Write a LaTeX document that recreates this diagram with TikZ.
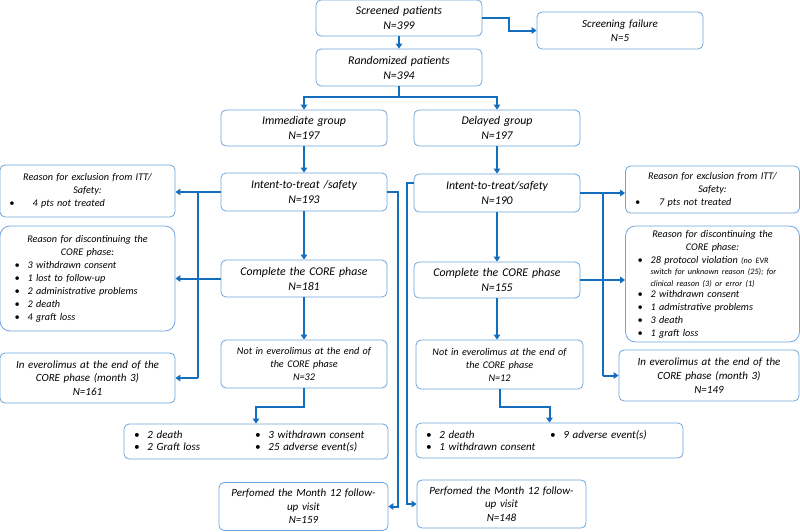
\documentclass[tikz,border=0pt]{standalone}
\usepackage{fontspec}
\setmainfont{Carlito}
\usetikzlibrary{arrows.meta,calc}
\definecolor{boxblue}{RGB}{110,165,220}
\definecolor{arrblue}{RGB}{20,110,190}
\begin{document}
\begin{tikzpicture}[x=1pt,y=-1pt,
    box/.style={draw=boxblue,line width=0.8pt,rounded corners=5pt,fill=white,align=center,inner sep=3pt,font=\fontsize{11.8}{15}\selectfont\itshape},
    mid/.style={font=\fontsize{11}{13.7}\selectfont\itshape},
    small/.style={font=\fontsize{10.2}{13}\selectfont\itshape},
    rbox/.style={box,small,rounded corners=10pt},
    link/.style={draw=arrblue,line width=2pt},
    arr/.style={link,-{Triangle[length=5pt,width=6.5pt]}}]
    \useasboundingbox (0,0) rectangle (800,531);
    \node[box,minimum width=166,text width=160,minimum height=36] (scr) at (399,18) {Screened patients\\N=399};
    \node[box,mid,minimum width=166,text width=160,minimum height=37] (fail) at (620,30.5) {Screening failure\\N=5};
    \node[box,minimum width=166,text width=160,minimum height=37] (rand) at (399,67.5) {Randomized patients\\N=394};
    \node[box,minimum width=166,text width=160,minimum height=36] (imm) at (304,128) {Immediate group\\N=197};
    \node[box,minimum width=166,text width=160,minimum height=36] (del) at (497,128) {Delayed group\\N=197};
    \node[box,minimum width=166,text width=160,minimum height=38] (ittL) at (304,192) {Intent-to-treat /safety\\N=193};
    \node[box,minimum width=166,text width=160,minimum height=38] (ittR) at (497,193) {Intent-to-treat/safety\\N=190};
    \node[box,small,minimum width=175,text width=166,minimum height=52] (exL) at (87.5,191) {Reason for exclusion from ITT/\\Safety:\\
        \makebox[\linewidth][l]{\hspace{5pt}\textbullet\hspace{18pt}4 pts not treated}};
    \node[box,small,minimum width=174,text width=165,minimum height=47] (exR) at (712.5,189.5) {Reason for exclusion from ITT/\\Safety:\\
        \makebox[\linewidth][l]{\hspace{5pt}\textbullet\hspace{19pt}7 pts not treated}};
    \node[rbox,minimum width=175,text width=166,minimum height=105] (disL) at (87.5,278.5) {Reason for discontinuing the\\CORE phase:\\
        \makebox[\linewidth][l]{\hspace{10pt}\textbullet\hspace{8pt}3 withdrawn consent}\\
        \makebox[\linewidth][l]{\hspace{10pt}\textbullet\hspace{8pt}1 lost to follow-up}\\
        \makebox[\linewidth][l]{\hspace{10pt}\textbullet\hspace{8pt}2 administrative problems}\\
        \makebox[\linewidth][l]{\hspace{10pt}\textbullet\hspace{8pt}2 death}\\
        \makebox[\linewidth][l]{\hspace{10pt}\textbullet\hspace{8pt}4 graft loss}};
    \node[box,minimum width=166,text width=160,minimum height=37] (corL) at (304,278.5) {Complete the CORE phase\\N=181};
    \node[box,minimum width=166,text width=160,minimum height=36] (corR) at (497,280) {Complete the CORE phase\\N=155};
    \node[rbox,minimum width=174,text width=166,minimum height=116] (disR) at (712.5,284) {Reason for discontinuing the\\CORE phase:\\
        \makebox[\linewidth][l]{\hspace{8pt}\textbullet\hspace{8pt}\parbox[t]{145pt}{\raggedright\fontsize{8.2}{11.5}\selectfont
            {\fontsize{10.2}{13}\selectfont 28 protocol violation} (no EVR\\
            switch for unknown reason (25); for\\
            clinical reason (3) or error (1)}}\\[2pt]
        \makebox[\linewidth][l]{\hspace{8pt}\textbullet\hspace{8pt}2 withdrawn consent}\\
        \makebox[\linewidth][l]{\hspace{8pt}\textbullet\hspace{8pt}1 admistrative problems}\\
        \makebox[\linewidth][l]{\hspace{8pt}\textbullet\hspace{8pt}3 death}\\
        \makebox[\linewidth][l]{\hspace{8pt}\textbullet\hspace{8pt}1 graft loss}};
    \node[box,small,minimum width=166,text width=160,minimum height=48] (notL) at (304,364) {Not in everolimus at the end of\\the CORE phase\\N=32};
    \node[box,small,minimum width=167,text width=160,minimum height=49] (notR) at (499.5,364.5) {Not in everolimus at the end of\\the CORE phase\\N=12};
    \node[box,mid,minimum width=175,text width=168,minimum height=50] (inL) at (87.5,378) {In everolimus at the end of the\\CORE phase (month 3)\\N=161};
    \node[box,mid,minimum width=180,text width=172,minimum height=51] (inR) at (709,375.5) {In everolimus at the end of the\\CORE phase (month 3)\\N=149};
    \node[box,mid,minimum width=264,text width=256,minimum height=35] (bulL) at (256,441.5) {
        \makebox[\linewidth][l]{\hspace{6pt}\makebox[121pt][l]{\textbullet\hspace{8pt}2 death}\textbullet\hspace{8pt}3 withdrawn consent}\\[-1pt]
        \makebox[\linewidth][l]{\hspace{6pt}\makebox[121pt][l]{\textbullet\hspace{8pt}2 Graft loss}\textbullet\hspace{8pt}25 adverse event(s)}};
    \node[box,mid,minimum width=267,text width=259,minimum height=35] (bulR) at (549.5,440.5) {
        \makebox[\linewidth][l]{\hspace{6pt}\makebox[124pt][l]{\textbullet\hspace{8pt}2 death}\textbullet\hspace{8pt}9 adverse event(s)}\\[-1pt]
        \makebox[\linewidth][l]{\hspace{6pt}\textbullet\hspace{8pt}1 withdrawn consent}};
    \node[box,mid,minimum width=167,text width=163,minimum height=48] (perL) at (303.5,506.5) {Perfomed the Month 12 follow-\\up visit\\N=159};
    \node[box,mid,minimum width=167,text width=163,minimum height=48] (perR) at (501.5,504) {Perfomed the Month 12 follow-\\up visit\\N=148};

    \draw[arr] (scr) -- (rand);
    \draw[arr] (scr.east) -- ++(27,0) |- (fail.west);
    \draw[link] (rand.south) -- ++(0,11) coordinate (split);
    \draw[arr] (split) -| (imm.north);
    \draw[arr] (split) -| (del.north);
    \draw[arr] (imm) -- (ittL);
    \draw[arr] (del) -- (ittR);
    \draw[arr] (ittL) -- (corL);
    \draw[arr] (corL) -- (notL);
    \draw[arr] (ittR) -- (corR);
    \draw[arr] (corR.south) -- (corR.south |- notR.north);
    \draw[arr] (ittL.west) -- (ittL.west -| exL.east);
    \coordinate (trunkL) at ($(ittL.west)!0.5!(ittL.west -| exL.east)$);
    \draw[link] (trunkL) -- (trunkL |- inL.east);
    \draw[arr] (trunkL |- inL.east) -- (inL.east);
    \draw[arr] (corL.west) -- (corL.west -| disL.east);
    \draw[arr] (ittL.east) -- ++(11,0) |- (perL.east);
    \draw[arr] ([yshift=10pt]ittR.west) -- ++(-7,0) |- (perR.west);
    \draw[arr] (ittR.east) -- (ittR.east -| exR.west);
    \coordinate (trunkR) at ($(ittR.east)!0.5!(ittR.east -| exR.west)$);
    \draw[link] (trunkR) -- (trunkR |- inR.west);
    \draw[arr] (trunkR |- inR.west) -- (inR.west);
    \draw[arr] (corR.east) -- (corR.east -| disR.west);
    \draw[arr] (notL.south) -- ++(0,19) -| (bulL.north);
    \draw[arr] (notR.south) -- ++(0,18) -| (bulR.north);
\end{tikzpicture}
\end{document}
